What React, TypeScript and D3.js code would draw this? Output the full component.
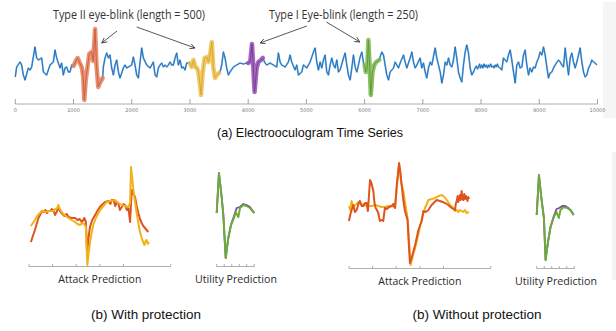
import * as d3 from "d3";

// ---- top panel: EOG series (t, value) ----
const blue: [number, number][] = [
  [0, -11], [23, -1], [81, 4], [109, 1], [138, -9], [167, -14], [224, -2], [253, -4], [281, -1], [338, 19],
  [367, 8], [396, 6], [453, 8], [482, -6], [539, -9], [596, 1], [653, 4], [682, 16], [711, 8], [768, -2],
  [796, 3], [825, -9], [854, -2], [882, -1], [911, -6], [940, -6], [968, 1], [1000, 0],
  [1500, -12], [1512, -1], [1541, 8], [1570, 13], [1599, 8], [1627, 11], [1656, -2], [1685, -9], [1713, 1],
  [1742, 6], [1771, -6], [1799, -12], [1856, -2], [1885, 1], [1914, -2], [1942, -1], [1999, 1], [2028, 9],
  [2057, 1], [2085, -9], [2114, -12], [2143, 4], [2171, 18], [2200, 8], [2257, 1], [2315, -2], [2372, 4],
  [2400, -9], [2429, -11], [2458, -2], [2486, 1], [2515, 3], [2543, -1], [2572, 1], [2600, -1], [2629, 1],
  [2658, 4], [2686, 1], [2715, 1], [2744, 8], [2772, 13], [2801, 1], [2830, 6], [2858, -2], [2887, -1],
  [2915, -4], [2944, 3], [3000, 3],
  [3500, -7], [3517, -6], [3545, 1], [3574, 14], [3603, 8], [3631, -2], [3660, -9], [3688, -6], [3746, -1],
  [3803, 1], [3860, 3], [3918, 2], [3975, 3], [4000, 3],
  [4250, 8], [4290, 3], [4319, 1], [4376, 3], [4433, 1], [4490, -1], [4519, 13], [4548, 4], [4576, 1],
  [4634, -1], [4691, 4], [4720, 11], [4748, 4], [4805, -4], [4834, 1], [4863, -9], [4920, -6], [4949, 1],
  [5006, -2], [5064, 4], [5121, 14], [5150, 18], [5178, 4], [5207, -4], [5236, 4], [5264, -2], [5293, 6],
  [5321, 11], [5350, -6], [5379, -9], [5407, 1], [5436, 8], [5465, 1], [5493, -2], [5522, 6], [5551, -6],
  [5579, -4], [5637, 8], [5665, 13], [5694, 1], [5722, -9], [5751, -14], [5780, -2], [5808, 11], [5837, -1],
  [5866, -6], [5894, 1], [5923, 9], [5952, 14], [5980, 3], [6000, 1],
  [6250, 6], [6266, 9], [6295, 14], [6324, 11], [6352, 1], [6381, -9], [6410, -14], [6438, -6], [6496, -2],
  [6524, 4], [6553, 1], [6582, -2], [6610, 3], [6668, 11], [6696, 4], [6725, -2], [6782, 8], [6811, 14],
  [6839, 4], [6868, -2], [6897, 1], [6954, 8], [6982, -2], [7011, 3], [7040, -6], [7068, -12], [7097, -2],
  [7126, 4], [7154, 1], [7212, 18], [7240, 8], [7269, 1], [7298, -6], [7326, -17], [7355, -9], [7384, 4],
  [7412, 1], [7441, 8], [7470, 1], [7498, -1], [7526, 6], [7555, 19], [7583, 8], [7612, -6], [7641, -12],
  [7669, -16], [7698, 1], [7727, 14], [7755, 21], [7784, 13], [7813, -2], [7841, -9], [7870, -6], [7898, -2],
  [7920, 0], [7940, -3], [7956, -1], [7975, 2], [7990, -2], [8013, 1], [8030, -2], [8050, 2], [8070, -1],
  [8090, 1], [8110, -2], [8127, 1], [8145, -1], [8165, 2], [8185, -1], [8205, 0], [8220, -2], [8242, 1],
  [8260, -1], [8280, 2], [8299, -1], [8328, -2], [8356, -4], [8385, 8], [8414, 6], [8442, 4], [8471, 11],
  [8500, 16], [8528, 6], [8557, -6], [8586, -17], [8614, 1], [8643, 4], [8672, -2], [8700, -1], [8729, 11],
  [8757, 16], [8786, 1], [8815, -9], [8843, -2], [8872, -6], [8901, -1], [8929, -2], [8958, 4], [8987, 8],
  [9015, 14], [9044, 11], [9072, 19], [9101, 11], [9130, -1], [9158, -12], [9187, -7], [9216, -6], [9244, -2],
  [9273, 1], [9330, 6], [9359, 4], [9387, 1], [9416, -1], [9445, 18], [9473, 4], [9502, -9], [9531, 8],
  [9559, 13], [9588, 4], [9617, -2], [9645, 4], [9674, 11], [9702, 18], [9731, 4], [9760, -6], [9788, -11],
  [9817, -9], [9846, -2], [9874, 1], [9903, 6], [9931, 4], [9960, 3], [9989, 1],
];

// inserted eye-blinks
const blinkOrange: [number, number][] = [
  [1000, 0], [1040, 5], [1070, 8], [1100, 4], [1140, -1], [1165, -10], [1185, -34], [1210, -14], [1240, -1],
  [1270, 12], [1310, 14], [1340, 5], [1370, 37], [1395, 0], [1425, -21], [1460, -16], [1500, -12],
];
const blinkYellow: [number, number][] = [
  [3000, 3], [3030, -1], [3060, 6], [3090, -1], [3120, -2], [3145, -6], [3170, -17], [3190, -29], [3215, -9],
  [3250, 8], [3290, 9], [3315, 4], [3345, 11], [3375, 24], [3400, -1], [3430, -12], [3460, -9], [3500, -7],
];
const blinkPurple: [number, number][] = [
  [4000, 3], [4035, 4], [4065, 22], [4080, 8], [4100, -16], [4110, -26], [4145, -2], [4175, 4], [4220, 6], [4250, 8],
];
const blinkGreen: [number, number][] = [
  [6000, 1], [6020, -6], [6045, -2], [6065, 26], [6083, 4], [6106, -29], [6135, -6], [6165, 1], [6200, 4], [6250, 6],
];

const topTicks = [0, 1000, 2000, 3000, 4000, 5000, 6000, 7000, 8000, 9000, 10000];

// annotation arrows: [tailT, tailV, tipT, tipV]
const arrows: [number, number, number, number][] = [
  [1747, 35, 1485, 23],
  [2086, 39, 3087, 18],
  [5007, 40, 4204, 23],
  [5343, 44, 5917, 24],
];
const annoLabels = ["Type II eye-blink (length = 500)", "Type I Eye-blink (length = 250)"];

// ---- bottom panels ----
const atkRedWith: [number, number][] = [
  [8, 24], [25, 36], [40, 48], [47, 51], [54, 55], [62, 54], [70, 56], [76, 53], [82, 55], [90, 55], [96, 57],
  [103, 56], [110, 51], [117, 54], [124, 59], [131, 55], [138, 53], [150, 50], [160, 52], [167, 49], [180, 48],
  [195, 48], [205, 46], [215, 47], [223, 44], [230, 46], [234, 48], [241, 44], [246, 12], [252, 28], [258, 39],
  [268, 46], [280, 51], [292, 56], [300, 59], [308, 61], [322, 64], [336, 65], [345, 62], [350, 66], [358, 66],
  [365, 60], [372, 64], [378, 63], [385, 56], [393, 59], [400, 62], [407, 61], [414, 56], [421, 58], [428, 44],
  [435, 76], [442, 72], [449, 69], [456, 60], [463, 53], [470, 47], [477, 43], [484, 40], [491, 38], [498, 36],
  [505, 34],
];
const atkYelWith: [number, number][] = [
  [8, 40], [25, 46], [35, 50], [46, 53], [55, 55], [68, 54], [85, 55], [103, 55], [112, 57], [120, 58], [124, 61],
  [131, 57], [138, 54], [150, 51], [167, 48], [180, 46], [195, 44], [205, 42], [216, 41], [226, 43], [234, 42],
  [241, 39], [247, 1], [252, 12], [258, 23], [265, 33], [272, 41], [285, 49], [301, 56], [315, 60], [329, 64],
  [345, 65], [364, 66], [378, 63], [393, 61], [407, 60], [421, 59], [428, 63], [432, 99], [437, 88], [442, 76],
  [449, 64], [456, 53], [463, 43], [470, 34], [480, 26], [489, 21], [494, 25], [498, 26], [503, 22], [508, 24],
];
const atkRedWithout: [number, number][] = [
  [0, 47], [4, 52], [11, 58], [18, 63], [25, 56], [32, 58], [40, 64], [46, 67], [54, 62], [61, 62], [68, 65],
  [75, 65], [80, 57], [85, 74], [89, 88], [95, 85], [103, 77], [108, 65], [113, 60], [118, 58], [124, 55],
  [128, 50], [131, 47], [138, 48], [145, 47], [152, 60], [160, 59], [170, 61], [181, 62], [188, 64], [195, 60],
  [203, 85], [212, 105], [218, 95], [223, 83], [230, 68], [237, 57], [248, 48], [253, 25], [258, 5], [265, 10],
  [272, 16], [280, 23], [294, 38], [308, 47], [315, 57], [325, 56], [336, 58], [350, 63], [371, 68], [385, 67],
  [407, 65], [420, 63], [435, 60], [449, 58], [452, 64], [456, 67], [460, 72], [463, 66], [467, 70], [470, 73],
  [473, 68], [477, 77], [480, 70], [484, 68], [488, 74], [491, 69], [495, 72], [498, 70], [502, 67], [505, 71],
  [508, 69],
];
const atkYelWithout: [number, number][] = [
  [0, 62], [5, 58], [11, 67], [18, 60], [25, 63], [32, 64], [40, 66], [47, 65], [55, 62], [61, 64], [68, 63],
  [80, 62], [96, 62], [110, 63], [124, 62], [138, 61], [152, 61], [167, 62], [181, 62], [195, 61], [203, 82],
  [212, 103], [221, 85], [230, 77], [239, 63], [248, 50], [255, 25], [261, 3], [270, 12], [280, 20], [290, 30],
  [301, 42], [311, 52], [322, 60], [336, 68], [350, 69], [364, 70], [380, 72], [393, 73], [404, 71], [414, 68],
  [428, 63], [442, 60], [449, 57], [456, 58], [463, 56], [470, 58], [477, 57], [484, 56], [491, 58], [498, 55],
  [508, 56],
];
const utilGreenWith: [number, number][] = [
  [0, 53], [15, 93], [33, 69], [44, 51], [60, 8], [77, 28], [95, 41], [117, 49], [126, 54], [144, 49], [155, 58],
  [177, 61], [199, 60], [221, 58], [250, 53],
];
const utilPurpleWith: [number, number][] = [
  [0, 53], [15, 93], [33, 69], [44, 51], [60, 8], [77, 28], [95, 41], [117, 51], [133, 58], [155, 59], [177, 62],
  [199, 61], [221, 59], [250, 53],
];
const utilGreenWithout: [number, number][] = [
  [0, 53], [15, 93], [31, 70], [48, 50], [59, 8], [75, 26], [92, 41], [114, 51], [132, 56], [147, 50], [158, 58],
  [180, 61], [202, 60], [224, 58], [246, 53],
];
const utilPurpleWithout: [number, number][] = [
  [0, 53], [15, 93], [31, 70], [48, 50], [59, 8], [75, 26], [92, 41], [114, 52], [132, 59], [150, 60], [170, 62],
  [190, 62], [210, 60], [230, 57], [246, 53],
];
const attackTicks = [0, 100, 200, 300, 400, 600];
const utilTicks = [0, 50, 100, 150, 200, 250];

const RED = "#e0531e";
const YEL = "#f0b21a";
const GREEN = "#6aab3b";
const PURPLE = "#8a3fa8";
const BLUE = "#1a6cb8";

const x = d3.scaleLinear().domain([0, 10000]).range([15.3, 597.5]);
const y = d3.scaleLinear().domain([-40, 40]).range([106, 26]);
const topLine = d3.line<[number, number]>().x((d) => x(d[0])).y((d) => y(d[1]));

const windows = [blinkOrange, blinkYellow, blinkPurple, blinkGreen].map((b) => [b[0][0], b[b.length - 1][0]]);

// split the blue trace where a blink window sits between two points
function splitBlue() {
  const segs: [number, number][][] = [[]];
  blue.forEach((p, i) => {
    if (i > 0) {
      const prev = blue[i - 1];
      if (windows.some(([a, b]) => prev[0] <= a && p[0] >= b)) segs.push([]);
    }
    segs[segs.length - 1].push(p);
  });
  return segs;
}

function Panel({ ox, base, red, yel, green, purple, redOnTop, caption }: any) {
  const ax = d3.scaleLinear().domain([0, 600]).range([ox + 29, ox + 170.7]);
  const ux = d3.scaleLinear().domain([0, 250]).range([ox + 216.7, ox + 254.3]);
  const py = d3.scaleLinear().domain([0, 100]).range([base, base - 100]);
  const la = d3.line<[number, number]>().x((d) => ax(d[0])).y((d) => py(d[1]));
  const lu = d3.line<[number, number]>().x((d) => ux(d[0])).y((d) => py(d[1]));
  const attack = redOnTop
    ? [[yel, YEL], [red, RED]]
    : [[red, RED], [yel, YEL]];
  return (
    <g>
      <line x1={ax(0)} x2={ax(600)} y1={base + 0.5} y2={base + 0.5} stroke="#9a9a9a" strokeWidth={0.8} />
      {attackTicks.map((t) => (
        <line key={t} x1={ax(t)} x2={ax(t)} y1={base - 2} y2={base + 0.5} stroke="#9a9a9a" strokeWidth={0.8} />
      ))}
      <line x1={ux(0)} x2={ux(250)} y1={base + 0.5} y2={base + 0.5} stroke="#9a9a9a" strokeWidth={0.8} />
      {utilTicks.map((t) => (
        <line key={t} x1={ux(t)} x2={ux(t)} y1={base - 2} y2={base + 0.5} stroke="#9a9a9a" strokeWidth={0.8} />
      ))}
      {attack.map(([d, c]: any, i) => (
        <path key={i} d={la(d) || ""} fill="none" stroke={c} strokeWidth={2} strokeLinejoin="round" />
      ))}
      <path d={lu(purple) || ""} fill="none" stroke={PURPLE} strokeWidth={1.8} strokeLinejoin="round" />
      <path d={lu(green) || ""} fill="none" stroke={GREEN} strokeWidth={2} strokeLinejoin="round" />
      <text x={(ax(0) + ax(600)) / 2} y={base + 16.5} textAnchor="middle" fontFamily="Open Sans" fontSize={10}
        fill="#2a2a2a" textLength={83} lengthAdjust="spacingAndGlyphs">Attack Prediction</text>
      <text x={ux(125) + 0.5} y={base + 16.5} textAnchor="middle" fontFamily="Open Sans" fontSize={10}
        fill="#2a2a2a" textLength={82} lengthAdjust="spacingAndGlyphs">Utility Prediction</text>
      <text x={caption.cx} y={318.5} textAnchor="middle" fontFamily="Liberation Sans" fontSize={12.5}
        fill="#111" textLength={caption.w} lengthAdjust="spacingAndGlyphs">{caption.text}</text>
    </g>
  );
}

export default function App() {
  const segs = splitBlue();
  const blinks: [[number, number][], string, string][] = [
    [blinkOrange, "#e3805f", "#d0603a"],
    [blinkYellow, "#ecc052", "#dba82a"],
    [blinkPurple, "#9450b4", "#7d3a9c"],
    [blinkGreen, "#7cb64e", "#5f9e34"],
  ];
  return (
    <svg width={616} height={331} style={{ position: "absolute", left: 0, top: 0, background: "#fff" }}>
      <defs>
        <marker id="ah" viewBox="0 0 10 10" refX={9} refY={5} markerWidth={7} markerHeight={7} orient="auto">
          <path d="M1,1 L9,5 L1,9" fill="none" stroke="#444" strokeWidth={1.4} />
        </marker>
      </defs>
      <rect x={603} y={2} width={13} height={116} fill="#f5f5f5" />
      <rect x={612} y={152} width={4} height={128} fill="#f3f3f3" />

      {/* axis */}
      <line x1={x(0)} x2={x(10000)} y1={104} y2={104} stroke="#c9c9c9" strokeWidth={1.6} />
      {topTicks.map((t) => (
        <g key={t}>
          <line x1={x(t)} x2={x(t)} y1={99} y2={104} stroke="#8a8a8a" strokeWidth={0.8} />
          <text x={x(t)} y={112} textAnchor="middle" fontFamily="DejaVu Sans" fontSize={5} fill="#777">{t}</text>
        </g>
      ))}

      {segs.map((s, i) => (
        <g key={i}>
          <path d={topLine(s) || ""} fill="none" stroke="#7fb4e2" strokeWidth={1.8} strokeLinejoin="round" />
          <path d={topLine(s) || ""} fill="none" stroke={BLUE} strokeWidth={0.9} strokeLinejoin="round" />
        </g>
      ))}
      {blinks.map(([d, c, core], i) => (
        <g key={i}>
          <path d={topLine(d) || ""} fill="none" stroke={c} strokeOpacity={0.85} strokeWidth={4.5} strokeLinejoin="round" strokeLinecap="round" />
          <path d={topLine(d) || ""} fill="none" stroke={core} strokeWidth={1} strokeLinejoin="round" />
        </g>
      ))}

      {arrows.map(([t0, v0, t1, v1], i) => (
        <line key={i} x1={x(t0)} y1={y(v0)} x2={x(t1)} y2={y(v1)} stroke="#444" strokeWidth={0.9} markerEnd="url(#ah)" />
      ))}
      <text x={129} y={18.5} textAnchor="middle" fontFamily="Open Sans" fontSize={12} fill="#333"
        textLength={152} lengthAdjust="spacingAndGlyphs">{annoLabels[0]}</text>
      <text x={343.5} y={18.5} textAnchor="middle" fontFamily="Open Sans" fontSize={12} fill="#333"
        textLength={149} lengthAdjust="spacingAndGlyphs">{annoLabels[1]}</text>

      <text x={310} y={137} textAnchor="middle" fontFamily="Liberation Sans" fontSize={13} fill="#111"
        textLength={186} lengthAdjust="spacingAndGlyphs">(a) Electrooculogram Time Series</text>

      <Panel ox={0} base={266} red={atkRedWith} yel={atkYelWith} green={utilGreenWith} purple={utilPurpleWith}
        redOnTop={false} caption={{ cx: 146, w: 110, text: "(b) With protection" }} />
      <Panel ox={320} base={268} red={atkRedWithout} yel={atkYelWithout} green={utilGreenWithout} purple={utilPurpleWithout}
        redOnTop={true} caption={{ cx: 477, w: 129, text: "(b) Without protection" }} />
    </svg>
  );
}
